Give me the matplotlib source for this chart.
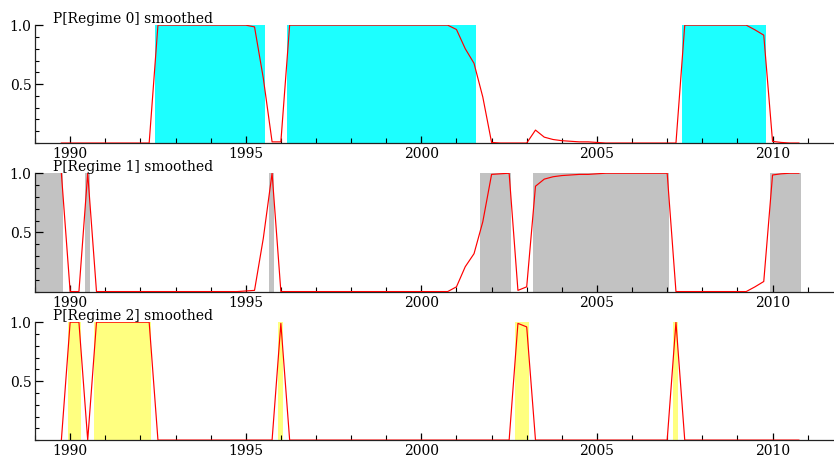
import matplotlib.pyplot as plt
from matplotlib.ticker import MultipleLocator
import numpy as np
import pandas as pd

# quarterly sample 1989Q4 - 2010Q4
quarters = pd.period_range('1989Q4', '2010Q4', freq='Q')
dates = np.asarray(quarters.year + (quarters.quarter - 1) / 4, dtype=float)

# smoothed regime probabilities
regime0 = [0,
           0, 0, 0, 0,                 # 1990
           0, 0, 0, 0,                 # 1991
           0, 0, 1, 1,                 # 1992
           1, 1, 1, 1,                 # 1993
           1, 1, 1, 1,                 # 1994
           1, 0.985, 0.55, 0.01,       # 1995
           0.01, 1, 1, 1,              # 1996
           1, 1, 1, 1,                 # 1997
           1, 1, 1, 1,                 # 1998
           1, 1, 1, 1,                 # 1999
           1, 1, 1, 1,                 # 2000
           0.963, 0.80, 0.676, 0.39,   # 2001
           0.005, 0, 0, 0,             # 2002
           0, 0.11, 0.05, 0.03,        # 2003
           0.02, 0.015, 0.01, 0.01,    # 2004
           0.005, 0, 0, 0,             # 2005
           0, 0, 0, 0,                 # 2006
           0, 0, 1, 1,                 # 2007
           1, 1, 1, 1,                 # 2008
           1, 1, 0.96, 0.915,          # 2009
           0.014, 0.005, 0, 0]         # 2010

regime1 = [1,
           0, 0, 1, 0,                 # 1990
           0, 0, 0, 0,                 # 1991
           0, 0, 0, 0,                 # 1992
           0, 0, 0, 0,                 # 1993
           0, 0, 0, 0,                 # 1994
           0.005, 0.01, 0.45, 1,       # 1995
           0, 0, 0, 0,                 # 1996
           0, 0, 0, 0,                 # 1997
           0, 0, 0, 0,                 # 1998
           0, 0, 0, 0,                 # 1999
           0, 0, 0, 0,                 # 2000
           0.04, 0.21, 0.32, 0.59,     # 2001
           0.99, 0.995, 1, 0.01,       # 2002
           0.04, 0.89, 0.95, 0.97,     # 2003
           0.98, 0.985, 0.99, 0.99,    # 2004
           0.995, 1, 1, 1,             # 2005
           1, 1, 1, 1,                 # 2006
           1, 0, 0, 0,                 # 2007
           0, 0, 0, 0,                 # 2008
           0, 0, 0.04, 0.085,          # 2009
           0.985, 0.995, 1, 1]         # 2010

regime2 = [0,
           1, 1, 0, 1,                 # 1990
           1, 1, 1, 1,                 # 1991
           1, 1, 0, 0,                 # 1992
           0, 0, 0, 0,                 # 1993
           0, 0, 0, 0,                 # 1994
           0, 0, 0, 0,                 # 1995
           0.99, 0, 0, 0,              # 1996
           0, 0, 0, 0,                 # 1997
           0, 0, 0, 0,                 # 1998
           0, 0, 0, 0,                 # 1999
           0, 0, 0, 0,                 # 2000
           0, 0, 0, 0,                 # 2001
           0, 0, 0, 0.99,              # 2002
           0.96, 0, 0, 0,              # 2003
           0, 0, 0, 0,                 # 2004
           0, 0, 0, 0,                 # 2005
           0, 0, 0, 0,                 # 2006
           0, 1, 0, 0,                 # 2007
           0, 0, 0, 0,                 # 2008
           0, 0, 0, 0,                 # 2009
           0, 0, 0, 0]                 # 2010

series = [regime0, regime1, regime2]
titles = ['P[Regime 0] smoothed', 'P[Regime 1] smoothed', 'P[Regime 2] smoothed']
shade_colors = ['#1cffff', '#c2c2c2', '#ffff80']

plt.rcParams['font.family'] = ['DejaVu Serif']
plt.rcParams['font.size'] = 10

fig = plt.figure(figsize=(8.34, 4.57), dpi=100)
# axes rectangles in figure fractions (left, bottom, width, height)
boxes = [(0.042, 0.687, 0.958, 0.258),
         (0.042, 0.362, 0.958, 0.259),
         (0.042, 0.037, 0.958, 0.258)]

x_left, x_right = 1989.0, 2011.75
classes = np.argmax(np.vstack(series), axis=0)

for k, (probs, title, col, box) in enumerate(zip(series, titles, shade_colors, boxes)):
    ax = fig.add_axes(box)

    # shade the periods classified to this regime
    flag = classes == k
    i = 0
    while i < len(flag):
        if flag[i]:
            j = i
            while j + 1 < len(flag) and flag[j + 1]:
                j += 1
            start = x_left if i == 0 else dates[i] - 0.075
            ax.axvspan(start, dates[j] + 0.055, ymin=0, ymax=1,
                       color=col, lw=0, zorder=1)
            i = j + 1
        else:
            i += 1

    ax.plot(dates, probs, color='red', lw=0.85, zorder=3)

    ax.set_xlim(x_left, x_right)
    ax.set_ylim(0, 1.0)
    for s in ['top', 'right']:
        ax.spines[s].set_visible(False)
    for s in ['left', 'bottom']:
        ax.spines[s].set_linewidth(0.9)
        ax.spines[s].set_color('#222222')

    ax.xaxis.set_major_locator(MultipleLocator(5))
    ax.xaxis.set_minor_locator(MultipleLocator(1))
    ax.set_yticks([0.5, 1.0])
    ax.set_yticklabels(['0.5', '1.0'])
    ax.yaxis.set_minor_locator(MultipleLocator(0.1))
    ax.tick_params(axis='x', which='major', direction='in', length=5, width=0.9, pad=3)
    ax.tick_params(axis='x', which='minor', direction='in', length=3.5, width=0.8)
    ax.tick_params(axis='y', which='major', direction='in', length=6, width=0.9, pad=2.5)
    ax.tick_params(axis='y', which='minor', direction='in', length=3, width=0.8)
    ax.set_facecolor('none')

    ax.text(0.0225, 1.02, title, transform=ax.transAxes, ha='left', va='baseline',
            fontsize=10)

fig.savefig('out.png', dpi=100)
plt.close(fig)
